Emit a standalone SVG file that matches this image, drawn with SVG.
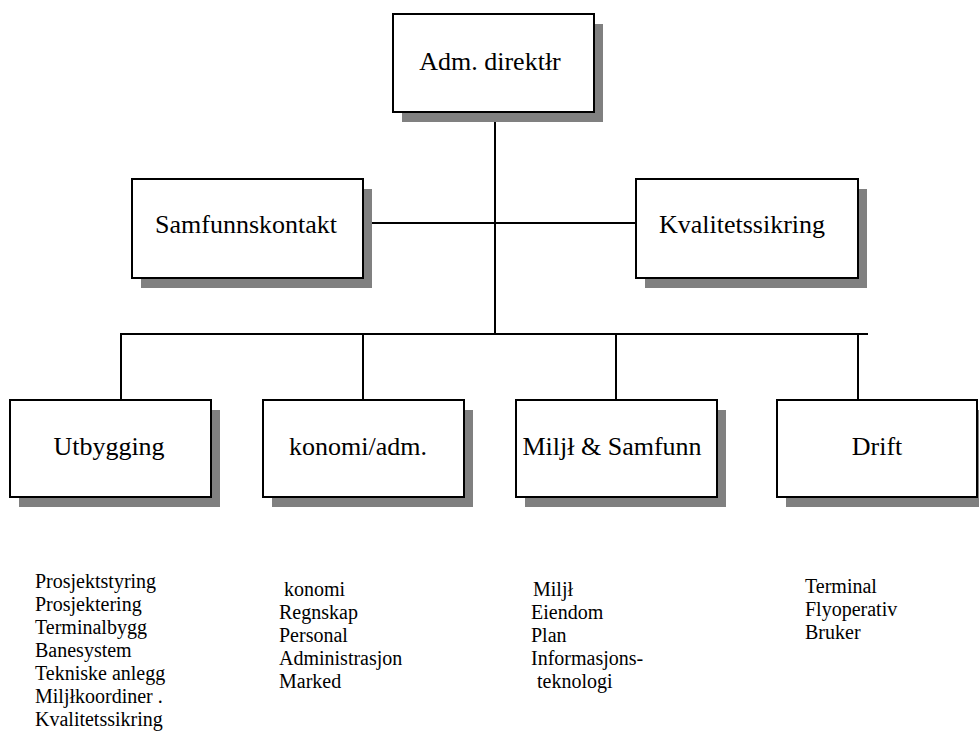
<svg xmlns="http://www.w3.org/2000/svg" width="979" height="737" viewBox="0 0 979 737">
<style>
.shadow{fill:#808080;stroke:none}
.box{fill:#ffffff;stroke:#000000;stroke-width:2}
.lbl{font-size:26px;fill:#000000;text-anchor:middle}
.lst{font-size:20px;fill:#000000}
.conn{stroke:#000000;stroke-width:2;fill:none}
</style>
<rect width="979" height="737" fill="#ffffff"/>
<g id="connectors">
<line class="conn" x1="495" y1="112" x2="495" y2="335"/>
<line class="conn" x1="363" y1="223" x2="636" y2="223"/>
<line class="conn" x1="120" y1="334" x2="868" y2="334"/>
<line class="conn" x1="121" y1="333" x2="121" y2="400"/>
<line class="conn" x1="363" y1="334" x2="363" y2="400"/>
<line class="conn" x1="616" y1="334" x2="616" y2="400"/>
<line class="conn" x1="858" y1="334" x2="858" y2="400"/>
</g>
<g font-family="Liberation Serif, Tinos, Times New Roman, Noto Serif, DejaVu Serif, serif">
<g id="adm">
<rect class="shadow" x="402" y="24" width="201" height="98"/>
<rect class="box" x="393" y="14" width="201" height="98"/>
<text class="lbl" x="490" y="70">Adm. direktłr</text>
</g>
<g id="samfunnskontakt">
<rect class="shadow" x="141" y="189" width="231" height="99"/>
<rect class="box" x="132" y="179" width="231" height="99"/>
<text class="lbl" x="246" y="233">Samfunnskontakt</text>
</g>
<g id="kvalitetssikring">
<rect class="shadow" x="645" y="189" width="222" height="99"/>
<rect class="box" x="636" y="179" width="222" height="99"/>
<text class="lbl" x="742" y="233">Kvalitetssikring</text>
</g>
<g id="utbygging">
<rect class="shadow" x="19" y="410" width="201" height="97"/>
<rect class="box" x="10" y="400" width="201" height="97"/>
<text class="lbl" x="109" y="455">Utbygging</text>
</g>
<g id="okonomi">
<rect class="shadow" x="272" y="410" width="201" height="97"/>
<rect class="box" x="263" y="400" width="201" height="97"/>
<text class="lbl" x="358" y="455">konomi/adm.</text>
</g>
<g id="miljo">
<rect class="shadow" x="525" y="410" width="201" height="97"/>
<rect class="box" x="516" y="400" width="201" height="97"/>
<text class="lbl" x="612" y="455">Miljł &amp; Samfunn</text>
</g>
<g id="drift">
<rect class="shadow" x="786" y="410" width="201" height="97"/>
<rect class="box" x="777" y="400" width="200" height="97"/>
<text class="lbl" x="877" y="455">Drift</text>
</g>
<g id="list-utbygging">
<text class="lst" x="35" y="588">Prosjektstyring</text>
<text class="lst" x="35" y="611">Prosjektering</text>
<text class="lst" x="35" y="634">Terminalbygg</text>
<text class="lst" x="35" y="657">Banesystem</text>
<text class="lst" x="35" y="680">Tekniske anlegg</text>
<text class="lst" x="35" y="703">Miljłkoordiner .</text>
<text class="lst" x="35" y="726">Kvalitetssikring</text>
</g>
<g id="list-okonomi">
<text class="lst" x="284" y="596">konomi</text>
<text class="lst" x="279" y="619">Regnskap</text>
<text class="lst" x="279" y="642">Personal</text>
<text class="lst" x="279" y="665">Administrasjon</text>
<text class="lst" x="279" y="688">Marked</text>
</g>
<g id="list-miljo">
<text class="lst" x="533" y="596">Miljł</text>
<text class="lst" x="531" y="619">Eiendom</text>
<text class="lst" x="531" y="642">Plan</text>
<text class="lst" x="531" y="665">Informasjons-</text>
<text class="lst" x="537" y="688">teknologi</text>
</g>
<g id="list-drift">
<text class="lst" x="805" y="593">Terminal</text>
<text class="lst" x="805" y="616">Flyoperativ</text>
<text class="lst" x="805" y="639">Bruker</text>
</g>
</g>
</svg>
